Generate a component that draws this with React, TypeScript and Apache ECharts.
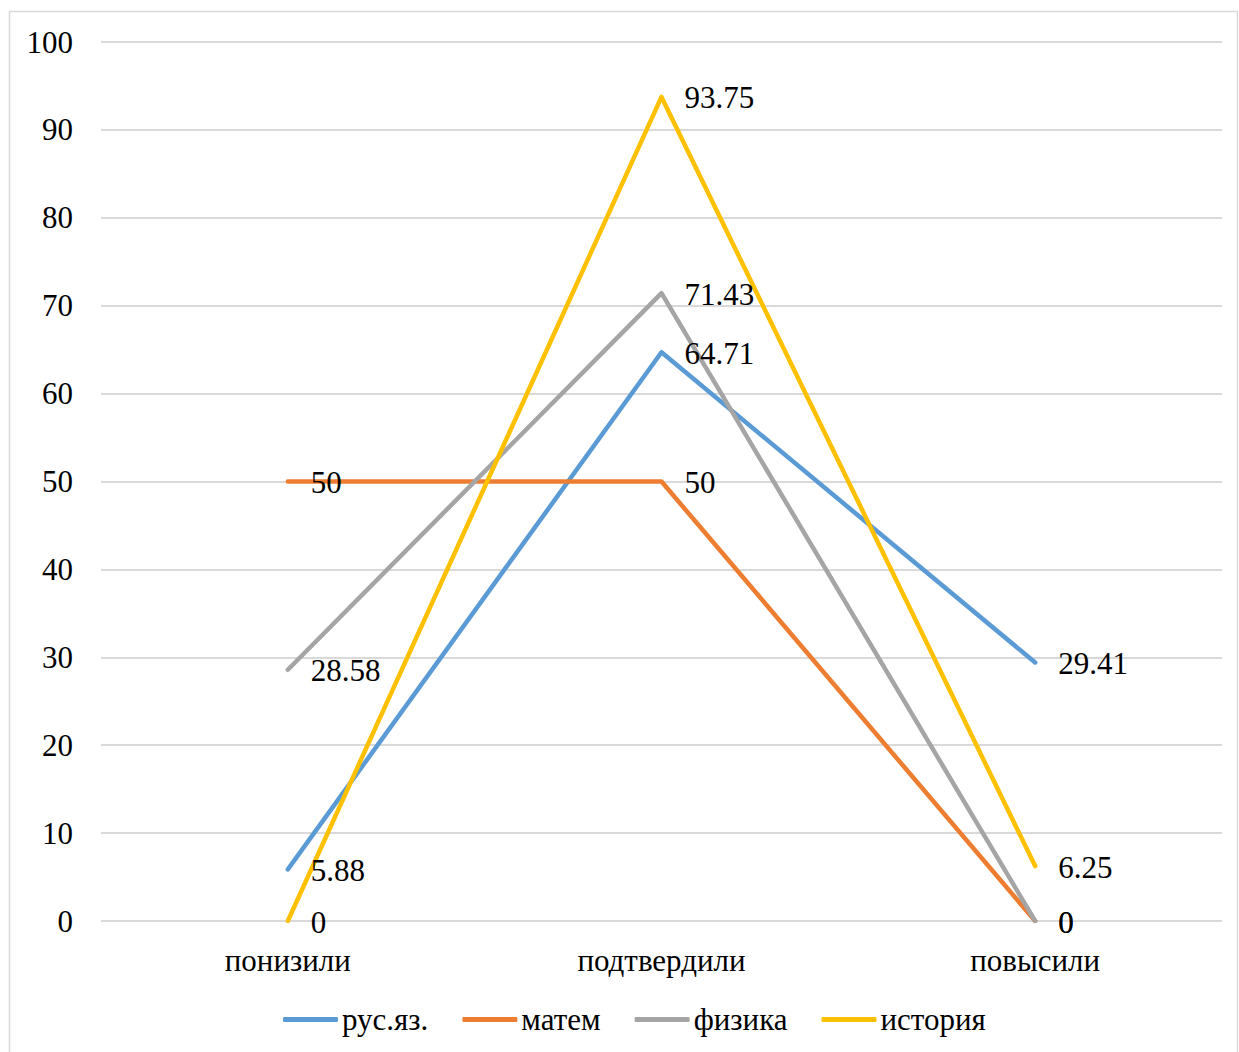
import React, { useEffect, useRef } from "react";
import * as echarts from "echarts";

const categories = ["понизили", "подтвердили", "повысили"];
const seriesNames = ["рус.яз.", "матем", "физика", "история"];
const rusValues = [5.88, 64.71, 29.41];
const matemValues = [50, 50, 0];
const fizikaValues = [28.58, 71.43, 0];
const istoriyaValues = [0, 93.75, 6.25];
const colors = ["#5B9BD5", "#ED7D31", "#A5A5A5", "#FFC000"];
const yTicks = { min: 0, max: 100, interval: 10 };

const FONT = "Liberation Serif";
const FS = 31;

export default function App() {
  const ref = useRef<HTMLDivElement>(null);
  useEffect(() => {
    if (!ref.current) return;
    const chart = echarts.init(ref.current, undefined, { renderer: "svg" });
    const data = [rusValues, matemValues, fizikaValues, istoriyaValues];
    chart.setOption({
      animation: false,
      backgroundColor: "#FFFFFF",
      textStyle: { fontFamily: FONT },
      graphic: [
        {
          type: "rect",
          shape: { x: 9.5, y: 11.5, width: 1228, height: 1050 },
          style: { fill: "none", stroke: "#D9D9D9", lineWidth: 1.5 },
          silent: true,
        },
      ],
      grid: { left: 101, right: 17, top: 42, bottom: 131 },
      legend: {
        bottom: 12,
        left: 278,
        itemWidth: 55,
        itemHeight: 5,
        itemGap: 34,
        icon: "roundRect",
        textStyle: { fontFamily: FONT, fontSize: FS, color: "#000", padding: [0, 0, 0, -1] },
        data: seriesNames,
      },
      xAxis: {
        type: "category",
        data: categories,
        boundaryGap: true,
        axisLine: { show: false },
        axisTick: { show: false },
        axisLabel: { fontFamily: FONT, fontSize: FS, color: "#000", margin: 24 },
      },
      yAxis: {
        type: "value",
        min: yTicks.min,
        max: yTicks.max,
        interval: yTicks.interval,
        axisLine: { show: false },
        axisTick: { show: false },
        axisLabel: { fontFamily: FONT, fontSize: FS, color: "#000", margin: 28 },
        splitLine: { lineStyle: { color: "#D9D9D9", width: 2 } },
      },
      series: seriesNames.map((name, i) => ({
        name,
        type: "line",
        data: data[i],
        symbol: "circle",
        symbolSize: 2,
        showSymbol: true,
        itemStyle: { color: colors[i] },
        lineStyle: { color: colors[i], width: 4.5, cap: "round", join: "round" },
        label: {
          show: true,
          position: "right",
          distance: 22,
          offset: [0, 1],
          fontFamily: FONT,
          fontSize: FS,
          color: "#000",
        },
      })),
    });
    return () => chart.dispose();
  }, []);
  return (
    <div
      ref={ref}
      style={{ position: "absolute", left: 0, top: 0, width: 1239, height: 1052 }}
    />
  );
}
